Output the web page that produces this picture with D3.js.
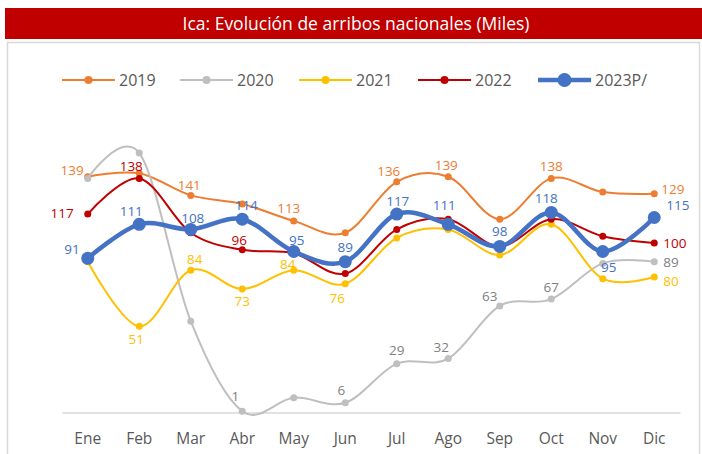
<!DOCTYPE html>
<html>

<head>
    <script src="https://d3js.org/d3.v7.min.js"></script>
    <title>Ica: Evolución de arribos nacionales</title>
    <meta charset="utf-8" />
    <style>
        body { margin: 0; background: #fff; }
        text { font-family: "Open Sans", "Noto Sans", sans-serif; }
    </style>
</head>

<body>
    <svg width="702" height="454"></svg>

    <script>
        // months on the x axis
        var months = ["Ene", "Feb", "Mar", "Abr", "May", "Jun", "Jul", "Ago", "Sep", "Oct", "Nov", "Dic"];

        // arribos nacionales (miles)
        var v2019 = [139, 141, 128, 123, 113, 106, 136, 139, 114, 138, 130, 129];
        var v2020 = [138, 153, 54, 1, 9, 6, 29, 32, 63, 67, 88, 89];
        var v2021 = [89, 51, 84, 73, 84, 76, 103, 108, 93, 111, 79, 80];
        var v2022 = [117, 138, 106, 96, 94, 82, 108, 114, 98, 114, 104, 100];
        var v2023 = [91, 111, 108, 114, 95, 89, 117, 111, 98, 118, 95, 115];

        var seriesNames = ["2019", "2020", "2021", "2022", "2023P/"];

        // where the data labels sit (month index + offset from the point)
        var labels2019 = [
            { i: 0, dx: -4, dy: -6, a: "end" }, { i: 1, dx: 50, dy: 12 }, { i: 4, dx: -5, dy: -13 },
            { i: 6, dx: -8, dy: -11 }, { i: 7, dx: -2, dy: -11 }, { i: 9, dx: 0, dy: -12 },
            { i: 11, dx: 7, dy: -4, a: "start" }
        ];
        var labels2020 = [
            { i: 3, dx: -7, dy: -15 }, { i: 5, dx: -4, dy: -13 }, { i: 6, dx: 0, dy: -13 },
            { i: 7, dx: -7, dy: -11 }, { i: 8, dx: -10, dy: -10 }, { i: 9, dx: 0, dy: -12 },
            { i: 11, dx: 9, dy: 1, a: "start" }
        ];
        var labels2021 = [
            { i: 1, dx: -3, dy: 13 }, { i: 2, dx: 4, dy: -11 }, { i: 3, dx: 0, dy: 12 },
            { i: 4, dx: -6, dy: -6 }, { i: 5, dx: -8, dy: 14 }, { i: 11, dx: 9, dy: 4, a: "start" }
        ];
        var labels2022 = [
            { i: 0, dx: -14, dy: -1, a: "end" }, { i: 1, dx: -8, dy: -12 }, { i: 3, dx: -3, dy: -10 },
            { i: 11, dx: 9, dy: 0, a: "start" }
        ];
        var labels2023 = [
            { i: 0, dx: -8, dy: -9, a: "end" }, { i: 1, dx: -8, dy: -13 }, { i: 2, dx: 2, dy: -11 },
            { i: 3, dx: 4, dy: -14 }, { i: 4, dx: 3, dy: -11 }, { i: 5, dx: 0, dy: -14 },
            { i: 6, dx: 1, dy: -13 }, { i: 7, dx: -4, dy: -19 }, { i: 8, dx: 0, dy: -15 },
            { i: 9, dx: -5, dy: -14 }, { i: 10, dx: 6, dy: 16 }, { i: 11, dx: 12, dy: -12, a: "start" }
        ];

        var series = [
            { name: seriesNames[0], values: v2019, labels: labels2019, color: "#ED7D31", text: "#ED7D31", w: 2, r: 3.5 },
            { name: seriesNames[1], values: v2020, labels: labels2020, color: "#BFBFBF", text: "#7F7F7F", w: 2, r: 3.5 },
            { name: seriesNames[2], values: v2021, labels: labels2021, color: "#FFC000", text: "#FFC000", w: 2, r: 3.5 },
            { name: seriesNames[3], values: v2022, labels: labels2022, color: "#C00000", text: "#C00000", w: 2, r: 3.5 },
            { name: seriesNames[4], values: v2023, labels: labels2023, color: "#4472C4", text: "#4472C4", w: 4.5, r: 6.5 }
        ];

        var svg = d3.select("svg");

        // chart frame
        svg.append("rect")
            .attr("x", 7.5).attr("y", 42.5)
            .attr("width", 692).attr("height", 430)
            .attr("fill", "#fff")
            .attr("stroke", "#D9D9D9")
            .attr("stroke-width", 1.5);

        // title bar
        svg.append("rect")
            .attr("x", 5).attr("y", 8)
            .attr("width", 697).attr("height", 31)
            .attr("fill", "#C00000");

        svg.append("text")
            .attr("x", 356).attr("y", 24)
            .attr("dy", "0.35em")
            .attr("text-anchor", "middle")
            .attr("fill", "#fff")
            .style("font-size", "17.5px")
            .text("Ica: Evolución de arribos nacionales (Miles)");

        // scales
        var x = d3.scaleBand()
            .domain(months)
            .range([62, 680]);

        var y = d3.scaleLinear()
            .domain([0, 160])
            .range([413, 141]);

        function px(i) { return x(months[i]) + x.bandwidth() / 2; }

        // x axis
        var xAxis = svg.append("g")
            .attr("transform", "translate(0,412.5)")
            .call(d3.axisBottom(x).tickSize(0).tickSizeOuter(0).tickPadding(20));

        xAxis.select(".domain")
            .attr("stroke", "#D9D9D9")
            .attr("stroke-width", 1.5);

        xAxis.selectAll("text")
            .attr("fill", "#595959")
            .style("font-size", "15.5px")
            .style("font-family", "'Open Sans', 'Noto Sans', sans-serif");

        var line = d3.line()
            .x(function (d, i) { return px(i); })
            .y(function (d) { return y(d); })
            .curve(d3.curveCardinal.tension(0));

        // lines + markers
        series.forEach(function (s) {
            var g = svg.append("g").attr("class", "series");

            g.append("path")
                .datum(s.values)
                .attr("d", line)
                .attr("fill", "none")
                .attr("stroke", s.color)
                .attr("stroke-width", s.w)
                .attr("stroke-linecap", "round");

            g.selectAll("circle")
                .data(s.values)
                .enter().append("circle")
                .attr("cx", function (d, i) { return px(i); })
                .attr("cy", function (d) { return y(d); })
                .attr("r", s.r)
                .attr("fill", s.color);
        });

        // data labels on top
        series.forEach(function (s) {
            svg.append("g").selectAll("text")
                .data(s.labels)
                .enter().append("text")
                .attr("x", function (l) { return px(l.i) + l.dx; })
                .attr("y", function (l) { return y(s.values[l.i]) + l.dy; })
                .attr("dy", "0.35em")
                .attr("text-anchor", function (l) { return l.a || "middle"; })
                .attr("fill", s.text)
                .style("font-size", "13.5px")
                .text(function (l) { return s.values[l.i]; });
        });

        // legend
        var legendX = [62, 180, 299, 418, 538];
        var legend = svg.append("g").attr("class", "legend");

        series.forEach(function (s, k) {
            var lg = legend.append("g")
                .attr("transform", "translate(" + legendX[k] + ",80)");

            lg.append("line")
                .attr("x1", 0).attr("x2", 53)
                .attr("stroke", s.color)
                .attr("stroke-width", s.w);

            lg.append("circle")
                .attr("cx", 26.5)
                .attr("r", s.r + 0.5)
                .attr("fill", s.color);

            lg.append("text")
                .attr("x", 57)
                .attr("dy", "0.35em")
                .attr("fill", "#595959")
                .style("font-size", "16px")
                .text(s.name);
        });
    </script>
</body>

</html>
